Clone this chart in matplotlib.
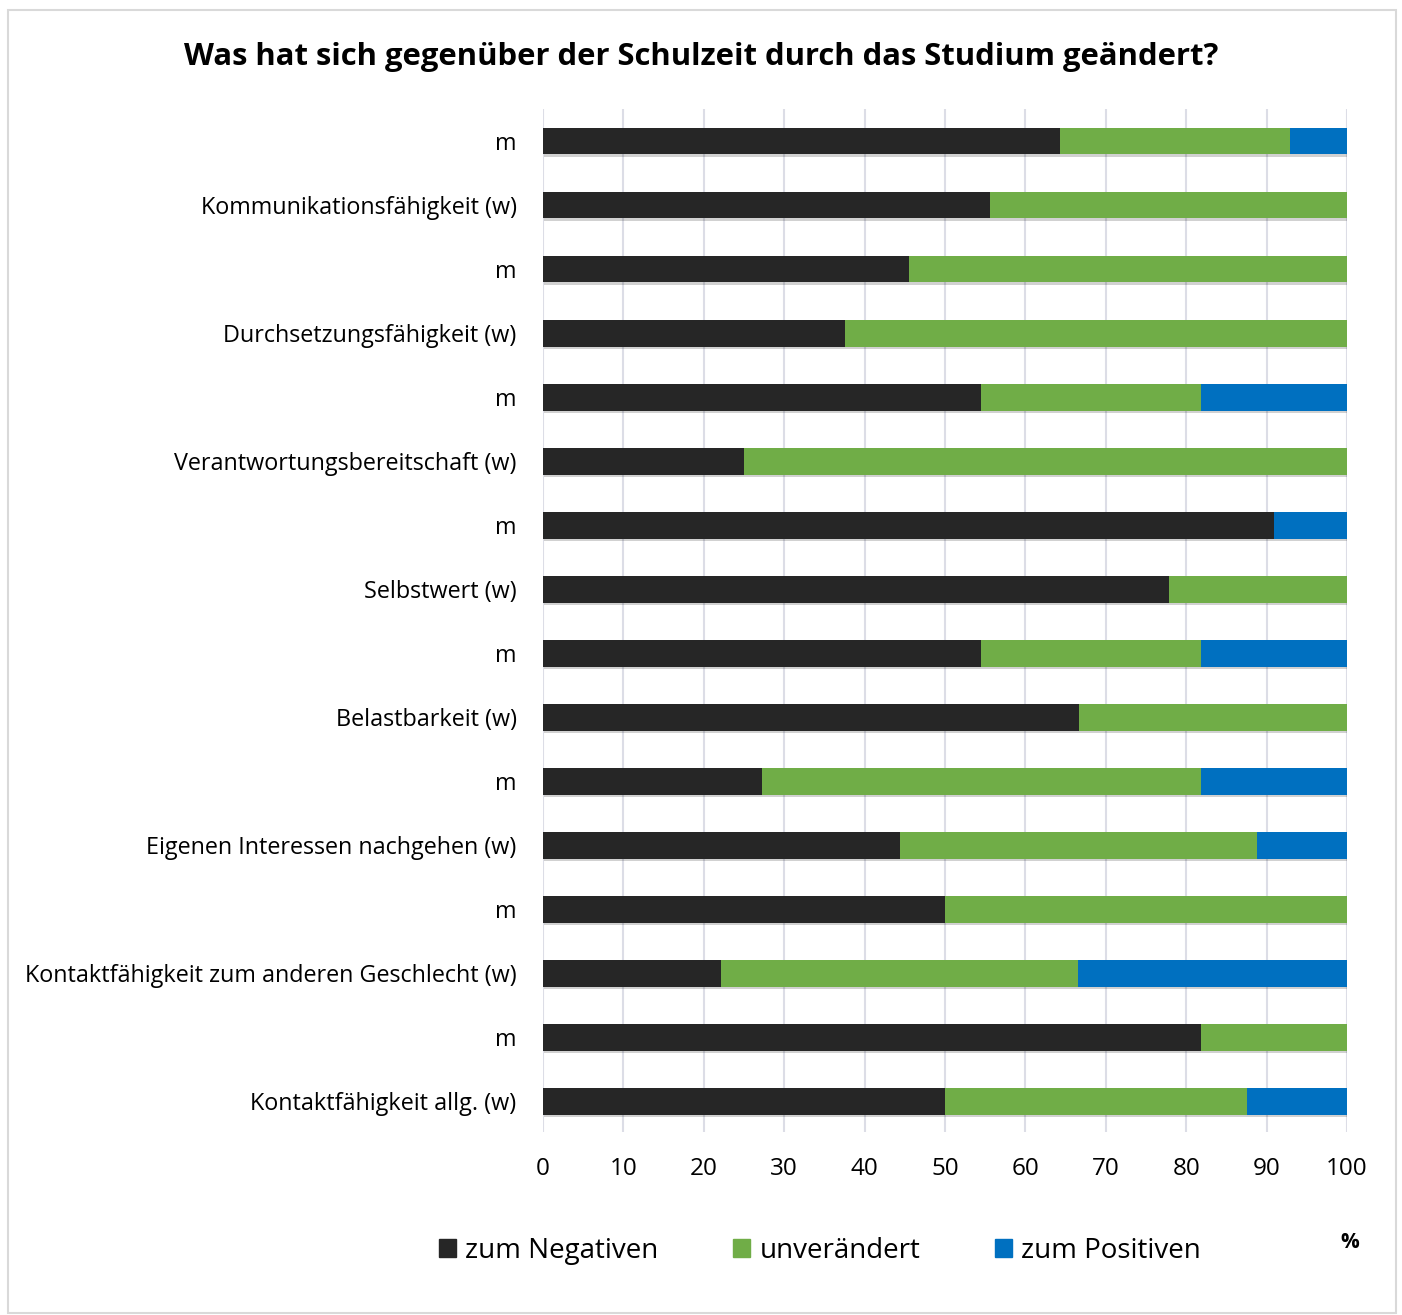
import numpy as np
import matplotlib.pyplot as plt
import matplotlib.patheffects as pe
from matplotlib.patches import Rectangle

# rows from bottom to top
labels = ['Kontaktfähigkeit allg. (w)', 'm',
          'Kontaktfähigkeit zum anderen Geschlecht (w)', 'm',
          'Eigenen Interessen nachgehen (w)', 'm',
          'Belastbarkeit (w)', 'm',
          'Selbstwert (w)', 'm',
          'Verantwortungsbereitschaft (w)', 'm',
          'Durchsetzungsfähigkeit (w)', 'm',
          'Kommunikationsfähigkeit (w)', 'm']
negativ = [50.0, 81.8, 22.2, 50.0, 44.4, 27.3, 66.7, 54.5,
           77.8, 90.9, 25.0, 54.5, 37.5, 45.5, 55.6, 64.3]
unveraendert = [37.5, 18.2, 44.4, 50.0, 44.4, 54.5, 33.3, 27.3,
                22.2, 0.0, 75.0, 27.3, 62.5, 54.5, 44.4, 28.6]
positiv = [12.5, 0.0, 33.4, 0.0, 11.2, 18.2, 0.0, 18.2,
           0.0, 9.1, 0.0, 18.2, 0.0, 0.0, 0.0, 7.1]
series = ['zum Negativen', 'unverändert', 'zum Positiven']
colors = ['#262626', '#70AD47', '#0070C0']

plt.rcParams['font.family'] = ['Open Sans', 'DejaVu Sans']

fig = plt.figure(figsize=(14.02, 13.15), dpi=100)
fig.patches.append(Rectangle((8 / 1402, 1 - 1313 / 1315), 1388 / 1402, 1303 / 1315,
                             transform=fig.transFigure, fill=False,
                             edgecolor='#D9D9D9', linewidth=1.5))

ax = fig.add_axes([543 / 1402, 1 - 1132 / 1315, 804 / 1402, 1023 / 1315])
y = np.arange(len(labels))
shadow = [pe.SimplePatchShadow(offset=(1, -2), shadow_rgbFace='#000000', alpha=0.18), pe.Normal()]

left = np.zeros(len(labels))
handles = []
for vals, name, col in zip([negativ, unveraendert, positiv], series, colors):
    bars = ax.barh(y, vals, left=left, height=0.42, color=col, zorder=3)
    for b in bars:
        b.set_path_effects(shadow)
    handles.append(Rectangle((0, 0), 1, 1, color=col, label=name))
    left = left + np.array(vals)

ax.set_xlim(0, 100)
ax.set_ylim(-0.48, 15.5)
ax.set_xticks(np.arange(0, 101, 10))
ax.set_yticks(y)
ax.set_yticklabels(labels, fontsize=16.8)
ax.tick_params(axis='x', labelsize=17.5, length=0, pad=18)
ax.tick_params(axis='y', length=0, pad=19)
ax.grid(axis='x', color='#DCDDE6', linewidth=1.5, zorder=0)
for s in ax.spines.values():
    s.set_visible(False)

fig.text(701 / 1402, 1 - 57 / 1315, 'Was hat sich gegenüber der Schulzeit durch das Studium geändert?',
         ha='center', va='center', fontsize=22.3, fontweight='bold')

fig.legend(handles=handles, loc='center', bbox_to_anchor=(820 / 1402, 1 - 1251 / 1315), ncol=3,
           frameon=False, fontsize=20, handlelength=0.62, handleheight=0.62,
           handletextpad=0.32, columnspacing=2.7)
fig.text(1350 / 1402, 1 - 1242 / 1315, '%', ha='center', va='center',
         fontsize=15, fontweight='bold')

fig.savefig('out.png', dpi=100)
